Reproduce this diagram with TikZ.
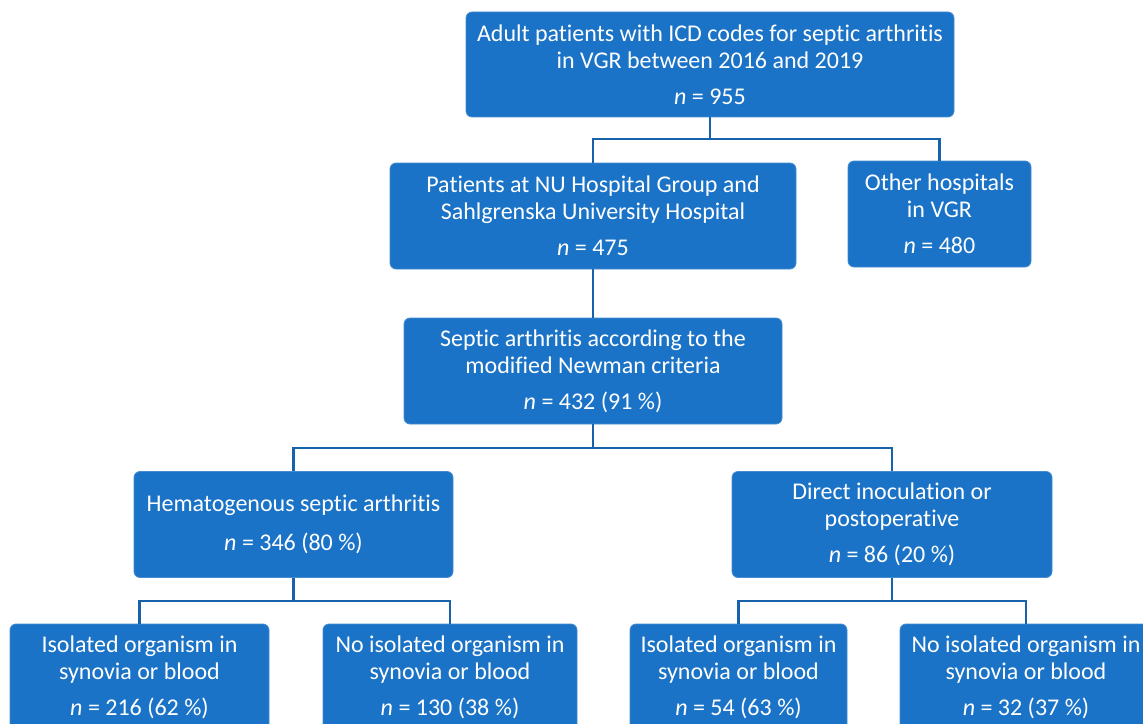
\documentclass[tikz,border=0pt]{standalone}
\usepackage{fontspec}
\setmainfont{Carlito}[Ligatures=NoCommon]
\definecolor{boxfill}{RGB}{26,115,198}
\definecolor{boxedge}{RGB}{70,140,208}
\definecolor{linkc}{RGB}{24,98,172}
\tikzset{
  box/.style n args={2}{draw=boxedge, line width=0.6pt, fill=boxfill, rounded corners=4.5pt,
    text=white, align=center, inner sep=0pt,
    minimum width=#1*0.75pt, minimum height=#2*0.75pt,
    font=\fontsize{18}{20}\selectfont},
  link/.style={draw=linkc, line width=1.6pt}
}
\begin{document}
\begin{tikzpicture}[x=0.75pt,y=-0.75pt]
\useasboundingbox (0,0) rectangle (1143,724);
\node[box={488}{105}] (top) at (710,64.5) {Adult patients with ICD codes for septic arthritis\\in VGR between 2016 and 2019\\[7pt]\textit{n} = 955};
\node[box={406}{106}] (nu) at (593,216) {Patients at NU Hospital Group and\\Sahlgrenska University Hospital\\[7pt]\textit{n} = 475};
\node[box={183}{106}] (other) at (939.5,214) {Other hospitals\\in VGR\\[7pt]\textit{n} = 480};
\node[box={378}{106}] (sep) at (593,371) {Septic arthritis according to the\\modified Newman criteria\\[7pt]\textit{n} = 432 (91 \%)};
\node[box={319}{106}] (hem) at (293.5,524.5) {Hematogenous septic arthritis\\[9pt]\textit{n} = 346 (80 \%)};
\node[box={320}{106}] (dir) at (892,524.5) {Direct inoculation or\\postoperative\\[7pt]\textit{n} = 86 (20 \%)};
\node[box={259}{106}] (b1) at (139.5,677) {Isolated organism in\\synovia or blood\\[7pt]\textit{n} = 216 (62 \%)};
\node[box={254}{106}] (b2) at (450,677) {No isolated organism in\\synovia or blood\\[7pt]\textit{n} = 130 (38 \%)};
\node[box={217}{106}] (b3) at (738.5,677) {Isolated organism in\\synovia or blood\\[7pt]\textit{n} = 54 (63 \%)};
\node[box={252}{106}] (b4) at (1026,677) {No isolated organism in\\synovia or blood\\[7pt]\textit{n} = 32 (37 \%)};
\coordinate (j1) at (710,139);
\coordinate (j2) at (593,448);
\coordinate (j3) at (293.5,601);
\coordinate (j4) at (892,601);
\draw[link] (top.south) -- (j1) -| (nu.north);
\draw[link] (j1) -| (other.north);
\draw[link] (nu.south) -- (sep.north);
\draw[link] (sep.south) -- (j2) -| (hem.north);
\draw[link] (j2) -| (dir.north);
\draw[link] (hem.south) -- (j3) -| (b1.north);
\draw[link] (j3) -| (b2.north);
\draw[link] (dir.south) -- (j4) -| (b3.north);
\draw[link] (j4) -| (b4.north);
\end{tikzpicture}
\end{document}
